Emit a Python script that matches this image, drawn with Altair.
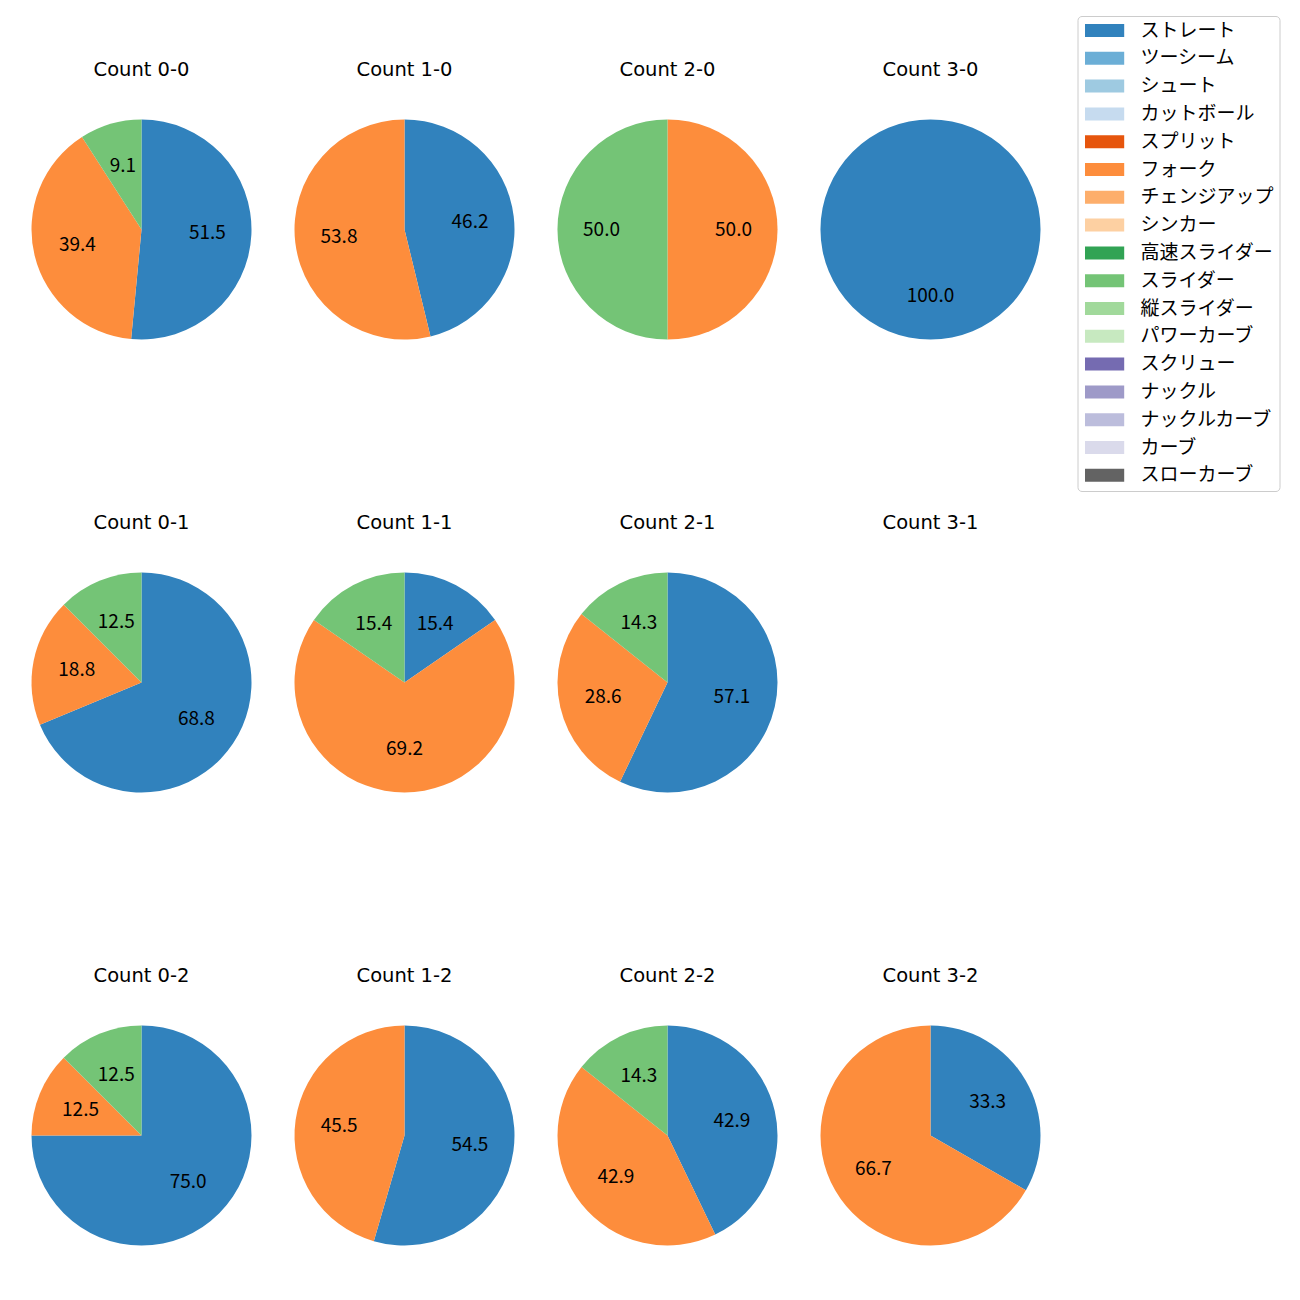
import altair as alt
import pandas as pd

pitch_types = ["ストレート", "ツーシーム", "シュート", "カットボール", "スプリット", "フォーク",
               "チェンジアップ", "シンカー", "高速スライダー", "スライダー", "縦スライダー",
               "パワーカーブ", "スクリュー", "ナックル", "ナックルカーブ", "カーブ", "スローカーブ"]
pitch_colors = ["#3182bd", "#6baed6", "#9ecae1", "#c6dbef", "#e6550d", "#fd8d3c",
                "#fdae6b", "#fdd0a2", "#31a354", "#74c476", "#a1d99b", "#c7e9c0",
                "#756bb1", "#9e9ac8", "#bcbddc", "#dadaeb", "#636363"]

counts = ["0-0", "1-0", "2-0", "3-0", "0-1", "1-1", "2-1", "3-1", "0-2", "1-2", "2-2", "3-2"]
straight = [51.5, 46.2, 0.0, 100.0, 68.8, 15.4, 57.1, 0.0, 75.0, 54.5, 42.9, 33.3]
fork = [39.4, 53.8, 50.0, 0.0, 18.8, 69.2, 28.6, 0.0, 12.5, 45.5, 42.9, 66.7]
slider = [9.1, 0.0, 50.0, 0.0, 12.5, 15.4, 14.3, 0.0, 12.5, 0.0, 14.3, 0.0]

rows = []
for i, c in enumerate(counts):
    for name, vals in (("ストレート", straight), ("フォーク", fork), ("スライダー", slider)):
        v = vals[i]
        if v > 0:
            rows.append({"cnt": c, "pitch": name, "value": v, "ord": pitch_types.index(name)})
df = pd.DataFrame(rows)

JP = "Noto Sans CJK JP"

legend = alt.Legend(
    title=None, orient="none", legendX=1046, legendY=-103.5,
    symbolType="M-1,-0.93H4.6V0.93H-1Z", symbolSize=196, symbolStrokeWidth=0,
    symbolOpacity=1,
    labelFont=JP, labelFontSize=19, labelColor="black", labelOffset=39,
    rowPadding=7.8, padding=5, strokeColor="#cccccc", cornerRadius=4,
    fillColor="white", labelLimit=300,
)
color = alt.Color("pitch:N", scale=alt.Scale(domain=pitch_types, range=pitch_colors), legend=legend)


def panel(c):
    base = alt.Chart(df).transform_filter(alt.datum.cnt == c).encode(
        theta=alt.Theta("value:Q", stack=True),
        order=alt.Order("ord:Q", sort="ascending"),
    )
    arc = base.mark_arc(outerRadius=110).encode(color=color)
    text = base.mark_text(radius=66, fontSize=19, font=JP, color="black").encode(
        text=alt.Text("value:Q", format=".1f"), detail="pitch:N")
    return alt.layer(arc, text).properties(
        width=220, height=220,
        title=alt.TitleParams(f"Count {c}", font="DejaVu Sans", fontSize=19.5,
                              fontWeight="normal", color="black", offset=39, anchor="middle"))


grid_rows = [alt.hconcat(*[panel(c) for c in counts[r * 4:(r + 1) * 4]], spacing=43) for r in range(3)]
chart = alt.vconcat(*grid_rows, spacing=173).properties(
    padding={"left": 23.5, "top": 7.5, "right": 5, "bottom": 5},
    background="white",
).configure_view(stroke=None)

chart.save("out.html", embed_options={"renderer": "svg", "actions": False})
